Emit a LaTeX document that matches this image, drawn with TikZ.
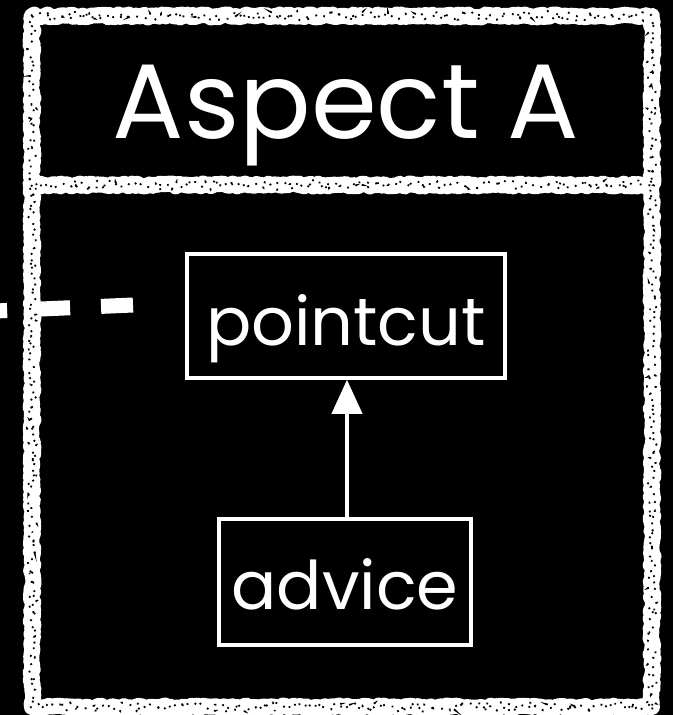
\documentclass[tikz,border=0pt]{standalone}
\usepackage{fontspec}
\setmainfont{Poppins}
\usetikzlibrary{arrows.meta,decorations.pathmorphing}
\begin{document}
\begin{tikzpicture}[x=1pt,y=-1pt,
  chalk/.style={draw=white, line width=16pt, line join=round, decorate,
    decoration={random steps, segment length=2.5pt, amplitude=1.5pt}},
  chalkspeck/.style={draw=black, line width=1.8pt, dash pattern=on 1.8pt off 7pt,
    decorate, decoration={random steps, segment length=3pt, amplitude=5pt}},
  boxnode/.style={draw=white, line width=3.5pt, fill=black, inner sep=0pt},
  lbl/.style={text=white, anchor=base, inner sep=0pt}]
\fill[black] (0,0) rectangle (673,715);
\useasboundingbox (0,0) rectangle (673,715);
% chalk frame
\draw[chalk] (32,16) rectangle (652,707);
\draw[chalk] (32,185) -- (652,185);
\draw[chalkspeck] (32,16) rectangle (652,707);
\draw[chalkspeck] (32,185) -- (652,185);
% title
\node[lbl, font=\fontsize{106}{110}\selectfont] (title) at (346,138) {Aspect A};
% boxes
\node[boxnode, minimum width=318pt, minimum height=124pt] (pc) at (346,316) {};
\node[boxnode, minimum width=252pt, minimum height=126pt] (adv) at (345,582) {};
\node[lbl, font=\fontsize{67}{70}\selectfont] (pctext) at (346,345) {pointcut};
\node[lbl, font=\fontsize{67}{70}\selectfont] (advtext) at (345,609) {advice};
% arrow
\draw[white, line width=4pt, -{Triangle[length=34pt,width=30pt]}] ([xshift=2pt]adv.north) -- ([xshift=1pt]pc.south);
% dashed connector
\coordinate (d0) at (-5,311);
\coordinate (d1) at (133,305);
\draw[white, line width=15pt, dash pattern=on 32pt off 31pt] (d1) -- (d0);
\end{tikzpicture}
\end{document}
